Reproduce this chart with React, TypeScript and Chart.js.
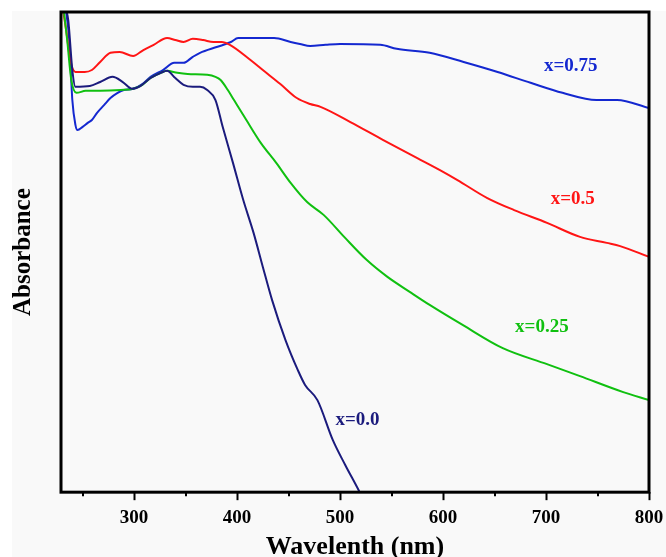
import React, { useEffect, useRef } from "react";
import { Chart, registerables } from "chart.js";

Chart.register(...registerables);

// x = 0.0
const wl00 = [230, 236, 240, 243, 257, 267, 279, 289, 298, 306, 316, 326, 332, 340, 348, 357, 364, 371, 379, 386, 396, 406, 416, 425, 434, 447, 459, 466, 478, 493, 505, 519, 530];
const ab00 = [1.23, 1.18, 1.055, 1.013, 1.015, 1.025, 1.038, 1.025, 1.008, 1.015, 1.035, 1.048, 1.053, 1.035, 1.018, 1.013, 1.013, 1.005, 0.98, 0.913, 0.823, 0.73, 0.648, 0.563, 0.48, 0.38, 0.305, 0.268, 0.23, 0.13, 0.068, 0.0, -0.06];

// x = 0.25
const wl25 = [231, 235, 239, 244, 253, 267, 287, 299, 308, 316, 326, 332, 342, 352, 371, 379, 384, 391, 397, 409, 423, 438, 452, 468, 484, 504, 526, 546, 568, 587, 619, 658, 701, 733, 775, 800];
const ab25 = [1.22, 1.13, 1.03, 0.998, 1.003, 1.003, 1.005, 1.008, 1.018, 1.035, 1.048, 1.053, 1.048, 1.045, 1.043, 1.038, 1.03, 1.005, 0.98, 0.93, 0.873, 0.823, 0.773, 0.725, 0.693, 0.638, 0.58, 0.538, 0.5, 0.468, 0.418, 0.36, 0.32, 0.29, 0.25, 0.23];

// x = 0.5
const wl50 = [230, 234, 238, 243, 252, 259, 267, 277, 286, 299, 309, 319, 332, 340, 348, 357, 367, 377, 385, 393, 413, 425, 442, 458, 471, 481, 510, 542, 575, 597, 614, 643, 669, 701, 733, 759, 772, 800];
const ab50 = [1.22, 1.155, 1.08, 1.05, 1.05, 1.055, 1.075, 1.098, 1.1, 1.09, 1.105, 1.118, 1.135, 1.13, 1.125, 1.133, 1.13, 1.125, 1.125, 1.118, 1.08, 1.055, 1.02, 0.985, 0.97, 0.963, 0.925, 0.88, 0.835, 0.805, 0.78, 0.735, 0.705, 0.673, 0.638, 0.623, 0.615, 0.588];

// x = 0.75
const wl75 = [233, 237, 240, 243, 245, 250, 255, 259, 264, 271, 277, 284, 290, 299, 308, 316, 328, 339, 348, 357, 364, 381, 394, 401, 414, 436, 452, 461, 471, 486, 500, 539, 555, 587, 620, 653, 685, 716, 749, 769, 800];
const ab75 = [1.22, 1.13, 0.98, 0.918, 0.905, 0.913, 0.923, 0.93, 0.948, 0.968, 0.985, 0.998, 1.005, 1.008, 1.02, 1.038, 1.055, 1.073, 1.073, 1.088, 1.098, 1.113, 1.125, 1.135, 1.135, 1.135, 1.125, 1.12, 1.115, 1.118, 1.12, 1.118, 1.108, 1.098, 1.075, 1.05, 1.023, 0.998, 0.98, 0.98, 0.96];

const seriesNames = ["x=0.0", "x=0.25", "x=0.5", "x=0.75"];
const seriesColors = ["#1b1b7d", "#10c010", "#ff1515", "#1428d0"];
// label anchor positions (wavelength, absorbance)
const labelWl = [517, 696, 726, 724];
const labelAb = [0.18, 0.4125, 0.7325, 1.065];

const majorTicks = [300, 400, 500, 600, 700, 800];
const minorTicks = [250, 350, 450, 550, 650, 750];
const xMin = 229;
const xMax = 800;
const yMin = 0;
const yMax = 1.2;

const toPts = (xs: number[], ys: number[]) => xs.map((x, i) => ({ x, y: ys[i] }));

export default function App() {
  const ref = useRef<HTMLCanvasElement | null>(null);
  useEffect(() => {
    if (!ref.current) return;
    const serif = "'Liberation Serif', 'Times New Roman', serif";
    const data = [toPts(wl00, ab00), toPts(wl25, ab25), toPts(wl50, ab50), toPts(wl75, ab75)];
    const decor = {
      id: "decor",
      beforeDraw(chart: any) {
        const ctx = chart.ctx;
        ctx.save();
        ctx.fillStyle = "#ffffff";
        ctx.fillRect(0, 0, chart.width, chart.height);
        ctx.fillStyle = "#f9f9f9";
        ctx.fillRect(12, 11, chart.width - 12, chart.height - 11);
        ctx.restore();
      },
      afterDraw(chart: any) {
        const ctx = chart.ctx;
        const a = chart.chartArea;
        const xs = chart.scales.x;
        const ys = chart.scales.y;
        ctx.save();
        ctx.strokeStyle = "#000";
        ctx.lineWidth = 2;
        minorTicks.forEach((v) => {
          const px = Math.round(xs.getPixelForValue(v));
          ctx.beginPath();
          ctx.moveTo(px, a.bottom);
          ctx.lineTo(px, a.bottom + 4);
          ctx.stroke();
        });
        ctx.lineWidth = 3;
        ctx.strokeRect(a.left, a.top, a.right - a.left, a.bottom - a.top);
        ctx.font = "bold 19px " + serif;
        ctx.textAlign = "center";
        ctx.textBaseline = "middle";
        seriesNames.forEach((n, i) => {
          ctx.fillStyle = seriesColors[i];
          ctx.fillText(n, xs.getPixelForValue(labelWl[i]), ys.getPixelForValue(labelAb[i]));
        });
        ctx.restore();
      },
    };
    const chart = new Chart(ref.current, {
      type: "line",
      data: {
        datasets: seriesNames.map((n, i) => ({
          label: n,
          data: data[i],
          borderColor: seriesColors[i],
          backgroundColor: seriesColors[i],
          borderWidth: 2,
          pointRadius: 0,
          cubicInterpolationMode: "monotone",
          fill: false,
        })),
      },
      options: {
        animation: false,
        responsive: false,
        events: [],
        layout: { padding: { top: 12, right: 17, left: 0, bottom: 0 } },
        plugins: { legend: { display: false }, tooltip: { enabled: false } },
        scales: {
          x: {
            type: "linear",
            min: xMin,
            max: xMax,
            afterBuildTicks: (s: any) => {
              s.ticks = majorTicks.map((v) => ({ value: v }));
            },
            afterFit: (s: any) => {
              s.paddingRight = 0;
              s.paddingLeft = 0;
            },
            border: { display: false },
            grid: { drawOnChartArea: false, drawTicks: true, tickLength: 8, tickWidth: 2, tickColor: "#000" },
            ticks: {
              color: "#000",
              padding: 7,
              maxRotation: 0,
              autoSkip: false,
              font: { family: serif, size: 19, weight: "bold", lineHeight: 1.2 },
            },
            title: {
              display: true,
              text: "Wavelenth (nm)",
              color: "#000",
              padding: { top: 0, bottom: 0 },
              font: { family: serif, size: 26, weight: "bold", lineHeight: 0.77 },
            },
          },
          y: {
            min: yMin,
            max: yMax,
            border: { display: false },
            grid: { display: false, drawTicks: false },
            ticks: { display: false },
            title: {
              display: true,
              text: "Absorbance",
              color: "#000",
              padding: { top: 9, bottom: 22 },
              font: { family: serif, size: 25, weight: "bold", lineHeight: 1.2 },
            },
          },
        },
      } as any,
      plugins: [decor],
    });
    return () => chart.destroy();
  }, []);
  return (
    <div style={{ position: "absolute", left: 0, top: 0, width: 666, height: 557 }}>
      <canvas ref={ref} width={666} height={557} style={{ display: "block" }} />
    </div>
  );
}
